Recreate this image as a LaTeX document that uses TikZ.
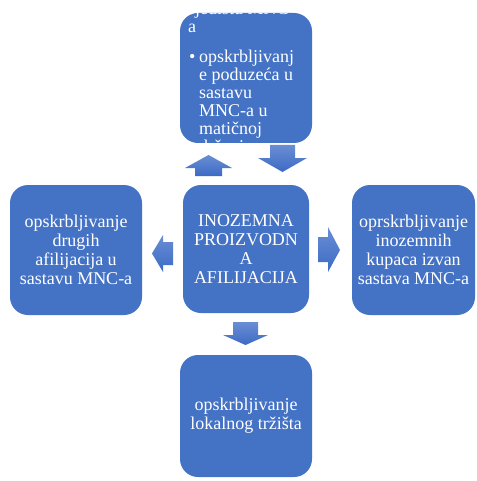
\documentclass[tikz,border=0pt]{standalone}
\usepackage{fontspec}
\setmainfont{Liberation Serif}
\begin{document}
\begin{tikzpicture}[x=1pt,y=-1pt,
  blk/.style={fill=boxblue, draw=none, rounded corners=18pt, inner sep=0pt,
    text=white, align=center, font=\fontsize{18}{19}\selectfont},
  barrow/.style={top color=arrlight, bottom color=arrdark, draw=none},
  toptxt/.style={anchor=base west, inner sep=0pt, text=white, font=\fontsize{18}{19}\selectfont}]
\definecolor{boxblue}{HTML}{4472C4}
\definecolor{arrlight}{HTML}{6A8ED4}
\definecolor{arrdark}{HTML}{3C6AC4}
\useasboundingbox (0,0) rectangle (476,481);
\fill[white] (0,0) rectangle (476,481);
% boxes
\node[blk, minimum width=132pt, minimum height=130pt] (top) at (246,78) {};
\node[blk, minimum width=126pt, minimum height=128pt] (ctr) at (246,249) {INOZEMNA\\PROIZVODN\\A\\AFILIJACIJA};
\node[blk, minimum width=132pt, minimum height=130pt] (lft) at (76,250) {opskrbljivanje\\drugih\\afilijacija u\\sastavu MNC-a};
\node[blk, minimum width=123pt, minimum height=130pt] (rgt) at (413.5,250) {oprskrbljivanje\\inozemnih\\kupaca izvan\\sastava MNC-a};
\node[blk, minimum width=132pt, minimum height=122pt] (bot) at (246,416) {opskrbljivanje\\lokalnog tržišta};
% clipped overflowing text of top box
\begin{scope}
\clip[rounded corners=18pt] (top.north west) rectangle (top.south east);
\node[toptxt] (t0) at (188,15) {sjedištu MNC-};
\node[toptxt] (t1) at (188,33) {a};
\node[toptxt] (tb) at (189,63) {•};
\node[toptxt] (t2) at (199,63) {opskrbljivanj};
\node[toptxt] (t3) at (199,81) {e poduzeća u};
\node[toptxt] (t4) at (199,99) {sastavu};
\node[toptxt] (t5) at (199,117) {MNC-a u};
\node[toptxt] (t6) at (199,135) {matičnoj};
\node[toptxt] (t7) at (199,153) {državi};
\end{scope}
% block arrows
\shade[barrow] (208.5,155) -- (232,168) -- (222,168) -- (222,176) -- (195,176) -- (195,168) -- (185,168) -- cycle;
\shade[barrow] (270,145) -- (295,145) -- (295,158) -- (307,158) -- (282.5,172) -- (258,158) -- (270,158) -- cycle;
\shade[barrow] (152,253.5) -- (163,235) -- (163,242) -- (173,242) -- (173,265) -- (163,265) -- (163,272) -- cycle;
\shade[barrow] (318,237) -- (328,237) -- (328,227) -- (340,250) -- (328,272) -- (328,262) -- (318,262) -- cycle;
\shade[barrow] (233,322) -- (258,322) -- (258,335) -- (268,335) -- (245.5,345) -- (223,335) -- (233,335) -- cycle;
\end{tikzpicture}
\end{document}
